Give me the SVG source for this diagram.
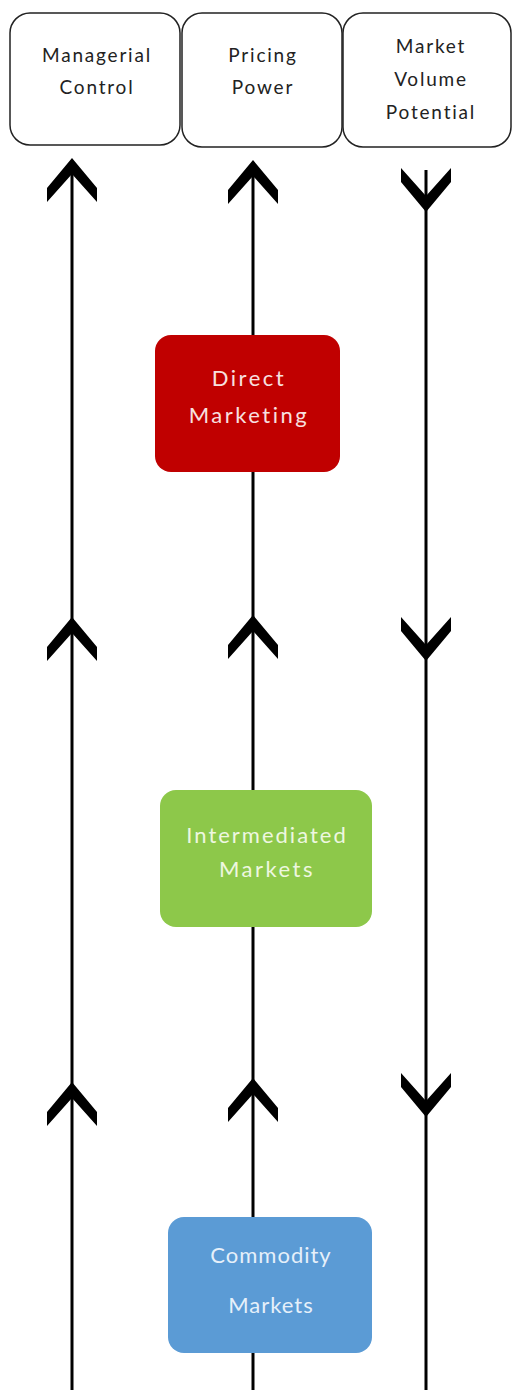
<svg xmlns="http://www.w3.org/2000/svg" width="513" height="1390" viewBox="0 0 513 1390">
<style>
.hdr{fill:#fff;stroke:#222;stroke-width:1.5}
.ht{font-family:Lato,"Liberation Sans",sans-serif;font-size:19px;letter-spacing:1.8px;fill:#222;text-anchor:middle}
.nt{font-family:Lato,"Liberation Sans",sans-serif;font-size:22px;letter-spacing:2.5px;text-anchor:middle}
.ln{stroke:#000;stroke-width:3;fill:none}
.ch{fill:#000}
</style>
<defs>
<polygon id="up" points="0,0 25,30 25,44 0,16 -25,44 -25,30"/>
<polygon id="dn" points="0,0 25,-30 25,-44 0,-16 -25,-44 -25,-30"/>
</defs>
<rect width="513" height="1390" fill="#fff"/>
<g id="managerial-control">
<rect class="hdr" x="10" y="13" width="170" height="132" rx="20"/>
<text class="ht" x="97" y="62">Managerial</text>
<text class="ht" x="97" y="94">Control</text>
</g>
<g id="pricing-power">
<rect class="hdr" x="182" y="13" width="160" height="134" rx="20"/>
<text class="ht" x="263" y="62">Pricing</text>
<text class="ht" x="263" y="94">Power</text>
</g>
<g id="market-volume-potential">
<rect class="hdr" x="343" y="13" width="168" height="134" rx="20"/>
<text class="ht" x="431" y="53">Market</text>
<text class="ht" x="431" y="86">Volume</text>
<text class="ht" x="431" y="119">Potential</text>
</g>
<g id="connectors">
<line class="ln" x1="72" y1="165" x2="72" y2="1390"/>
<line class="ln" x1="253" y1="168" x2="253" y2="335"/>
<line class="ln" x1="253" y1="472" x2="253" y2="790"/>
<line class="ln" x1="253" y1="927" x2="253" y2="1217"/>
<line class="ln" x1="253" y1="1353" x2="253" y2="1390"/>
<line class="ln" x1="426" y1="170" x2="426" y2="1390"/>
<use href="#up" class="ch" x="72" y="158"/>
<use href="#up" class="ch" x="253" y="160"/>
<use href="#dn" class="ch" x="426" y="212"/>
<use href="#up" class="ch" x="72" y="617"/>
<use href="#up" class="ch" x="253" y="615"/>
<use href="#dn" class="ch" x="426" y="661"/>
<use href="#up" class="ch" x="72" y="1082"/>
<use href="#up" class="ch" x="253" y="1078"/>
<use href="#dn" class="ch" x="426" y="1117"/>
</g>
<g id="direct-marketing">
<rect x="155" y="335" width="185" height="137" rx="16" fill="#C00000"/>
<text class="nt" x="249" y="386" fill="#f8e0e0">Direct</text>
<text class="nt" x="249" y="423" fill="#f8e0e0">Marketing</text>
</g>
<g id="intermediated-markets">
<rect x="160" y="790" width="212" height="137" rx="16" fill="#8DC84A"/>
<text class="nt" x="267" y="843" fill="#eef7e0" style="letter-spacing:2px">Intermediated</text>
<text class="nt" x="267" y="877" fill="#eef7e0">Markets</text>
</g>
<g id="commodity-markets">
<rect x="168" y="1217" width="204" height="136" rx="16" fill="#5B9BD5"/>
<text class="nt" x="271" y="1263" fill="#e6f0fa" font-size="23" style="letter-spacing:1px">Commodity</text>
<text class="nt" x="271" y="1313" fill="#e6f0fa" font-size="23" style="letter-spacing:1px">Markets</text>
</g>
</svg>
